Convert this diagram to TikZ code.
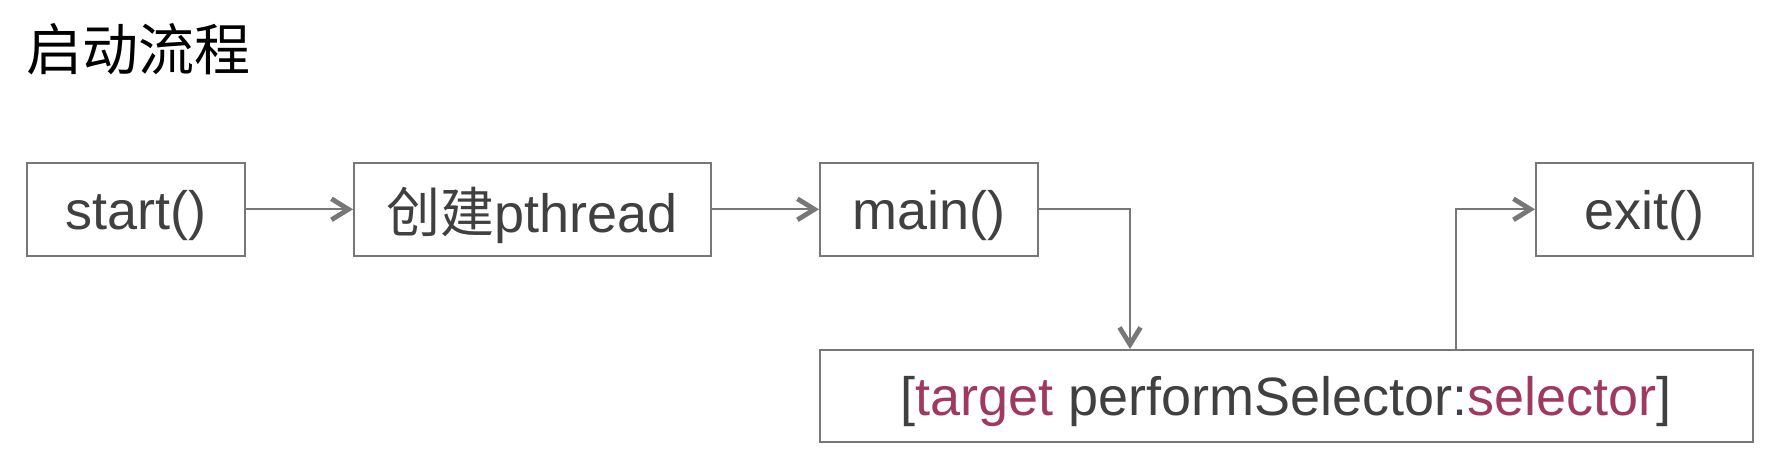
\documentclass[tikz,border=0pt]{standalone}
\usepackage{fontspec}
\setmainfont{Liberation Sans}
\newfontfamily\cjk{Noto Sans CJK SC}
\usetikzlibrary{arrows.meta}
\definecolor{txt}{HTML}{404040}
\definecolor{ln}{HTML}{777777}
\definecolor{hl}{HTML}{A03A5C}
\newcommand\lowr[1]{\raisebox{-6pt}[\height][\depth]{#1}}
\begin{document}
\begin{tikzpicture}[x=1pt,y=-1pt,
  box/.style={draw=ln,line width=1.6pt,text=txt,font=\fontsize{54}{60}\selectfont,inner sep=0pt,minimum height=93pt,anchor=north west},
  conn/.style={draw=ln,line width=2pt,-{Straight Barb[length=17pt,width=21pt,line width=4.8pt]}}]
\useasboundingbox (0,0) rectangle (1776,464);
\node[anchor=north west,inner sep=0pt,text=black,font=\cjk\fontsize{56}{60}\selectfont] (title) at (26,23) {启动流程};
\node[box,minimum width=218pt] (start) at (26,162) {\lowr{start()}};
\node[box,minimum width=357pt] (pth) at (353,162) {\lowr{{\cjk 创建}pthread}};
\node[box,minimum width=218pt] (main) at (819,162) {\lowr{main()}};
\node[box,minimum width=217pt] (exit) at (1535,162) {\lowr{exit()}};
\node[box,minimum width=933pt,minimum height=92pt] (sel) at (819,349) {\lowr{[\textcolor{hl}{target} performSelector:\textcolor{hl}{selector}]}};
\draw[conn] (start) -- (pth);
\draw[conn] (pth) -- (main);
\draw[conn] (main.east) -| (sel.north -| 1130,0);
\draw[conn] (sel.north -| 1456,0) |- (exit.west);
\end{tikzpicture}
\end{document}
